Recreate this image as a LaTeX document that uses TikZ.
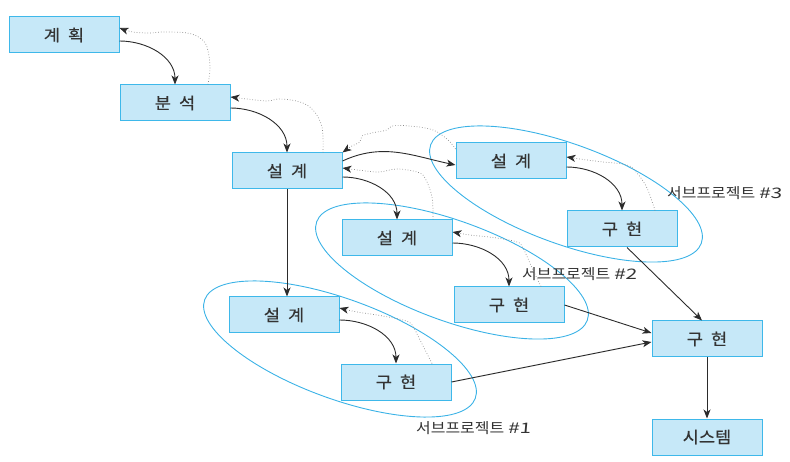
\documentclass[tikz,border=0pt]{standalone}
\usepackage{fontspec}
\setmainfont{Noto Sans CJK KR}
\usetikzlibrary{arrows.meta}
\definecolor{boxfill}{HTML}{C6E8F8}
\definecolor{boxline}{HTML}{3EB8EA}
\definecolor{ellline}{HTML}{3AB2E6}
\definecolor{txt}{HTML}{333333}
\definecolor{arrowc}{HTML}{2B2B2B}
\definecolor{dotc}{HTML}{8A8A8A}
\newcommand{\bgap}{\hspace{8pt}}
\newcommand{\subnum}[1]{\scalebox{1.3}[1]{\addfontfeature{FakeSlant=0.07}\##1}}
\tikzset{
  box/.style={draw=boxline, fill=boxfill, line width=1pt, minimum width=110pt, minimum height=36pt, inner sep=0pt, text=txt, font=\fontsize{16}{18}\selectfont\addfontfeatures{FakeBold=0.5,FakeStretch=1.1}},
  lab/.style={text=txt, inner sep=0pt, anchor=west, font=\fontsize{14.5}{16}\selectfont\addfontfeatures{FakeStretch=1.1}},
  arr/.style={draw=arrowc, line width=0.9pt, -{Stealth[length=9pt,width=7pt,inset=2.5pt]}},
  fb/.style={draw=dotc, line width=0.7pt, dotted, -{Stealth[length=9pt,width=7pt,inset=2.5pt,sep=0pt]}, arrows={[color=arrowc]}},
  subp/.style={draw=ellline, line width=0.9pt},
}
\begin{document}
\begin{tikzpicture}[x=1pt,y=1pt]
\useasboundingbox (0,0) rectangle (790,-462);
% ellipses
\draw[subp, rotate around={-20:(340,-349)}] (340,-349) ellipse [x radius=144, y radius=50];
\draw[subp, rotate around={-20:(452,-271)}] (452,-271) ellipse [x radius=144, y radius=50];
\draw[subp, rotate around={-20:(566,-194)}] (566,-194) ellipse [x radius=144, y radius=50];
% boxes
\node[box] (plan) at (64,-35) {계\bgap 획};
\node[box] (anal) at (175,-103) {분\bgap 석};
\node[box] (des0) at (287,-171) {설\bgap 계};
\node[box] (des3) at (511,-161) {설\bgap 계};
\node[box] (imp3) at (622,-229) {구\bgap 현};
\node[box] (des2) at (397,-238) {설\bgap 계};
\node[box] (imp2) at (509,-305) {구\bgap 현};
\node[box] (des1) at (284,-315) {설\bgap 계};
\node[box] (imp1) at (396,-382) {구\bgap 현};
\node[box] (impM) at (707,-339) {구\bgap 현};
\node[box] (sys) at (707,-437) {시스템};
% labels
\node[lab] (l3) at (667,-193) {서브프로젝트 \subnum{3}};
\node[lab] (l2) at (522,-274) {서브프로젝트 \subnum{2}};
\node[lab] (l1) at (416,-428) {서브프로젝트 \subnum{1}};
% solid curved arrows
\draw[arr] ([yshift=-6pt]plan.east) to[out=0,in=90] (anal.north);
\draw[arr] ([yshift=-5pt]anal.east) to[out=0,in=90] (des0.north);
\draw[arr] ([yshift=10pt]des0.east) to[out=25,in=168] ([yshift=-4pt]des3.west);
\draw[arr] ([yshift=-6pt]des0.east) to[out=0,in=90] (des2.north);
\draw[arr] ([yshift=-6pt]des3.east) to[out=0,in=90] (imp3.north);
\draw[arr] ([yshift=-5pt]des2.east) to[out=0,in=90] (imp2.north);
\draw[arr] ([yshift=-5pt]des1.east) to[out=0,in=90] (imp1.north);
% straight arrows
\draw[arr] (des0.south) -- (des0.south |- des1.north);
\draw[arr] ([xshift=5pt]imp3.south) -- ([xshift=-5pt]impM.north);
\draw[arr] (imp2.east) -- ([yshift=6pt]impM.west);
\draw[arr] (imp1.east) -- ([yshift=-3pt]impM.west);
\draw[arr] (impM.south) -- (sys.north);
% dotted feedback
\draw[fb] plot[smooth, tension=0.6] coordinates {([xshift=33pt]anal.north) (210,-67) (207,-47) (200,-38) (187,-33) (163,-32) (150,-33) (133,-32) ([yshift=7pt]plan.east)};
\draw[fb] plot[smooth, tension=0.6] coordinates {([xshift=36pt]des0.north) (322,-127) (313,-110) (300,-102) (280,-99) (267,-101) (247,-99) ([yshift=6pt]anal.east)};
\draw[fb] plot[smooth, tension=0.6] coordinates {([yshift=12pt]des3.west) (448,-140) (433,-130) (410,-126) (392,-126) (387,-130) (372,-133) (362,-136) (360,-142) (352,-146) (des0.north east)};
\draw[fb] plot[smooth, tension=0.6] coordinates {([xshift=36pt]des2.north) (432,-197) (425,-178) (417,-172) (397,-169) (380,-172) (366,-171) ([yshift=3pt]des0.east)};
\draw[fb] plot[smooth, tension=0.6] coordinates {([xshift=33pt]imp3.north) (647,-188) (637,-173) (627,-165) (603,-162) (587,-160) ([yshift=4pt]des3.east)};
\draw[fb] plot[smooth, tension=0.6] coordinates {([xshift=32pt]imp2.north) (533,-270) (523,-248) (517,-242) (497,-238) (470,-235) ([yshift=6pt]des2.east)};
\draw[fb] plot[smooth, tension=0.6] coordinates {([xshift=36pt]imp1.north) (420,-340) (412,-325) (403,-320) (377,-315) (357,-312) ([yshift=7pt]des1.east)};
\end{tikzpicture}
\end{document}
